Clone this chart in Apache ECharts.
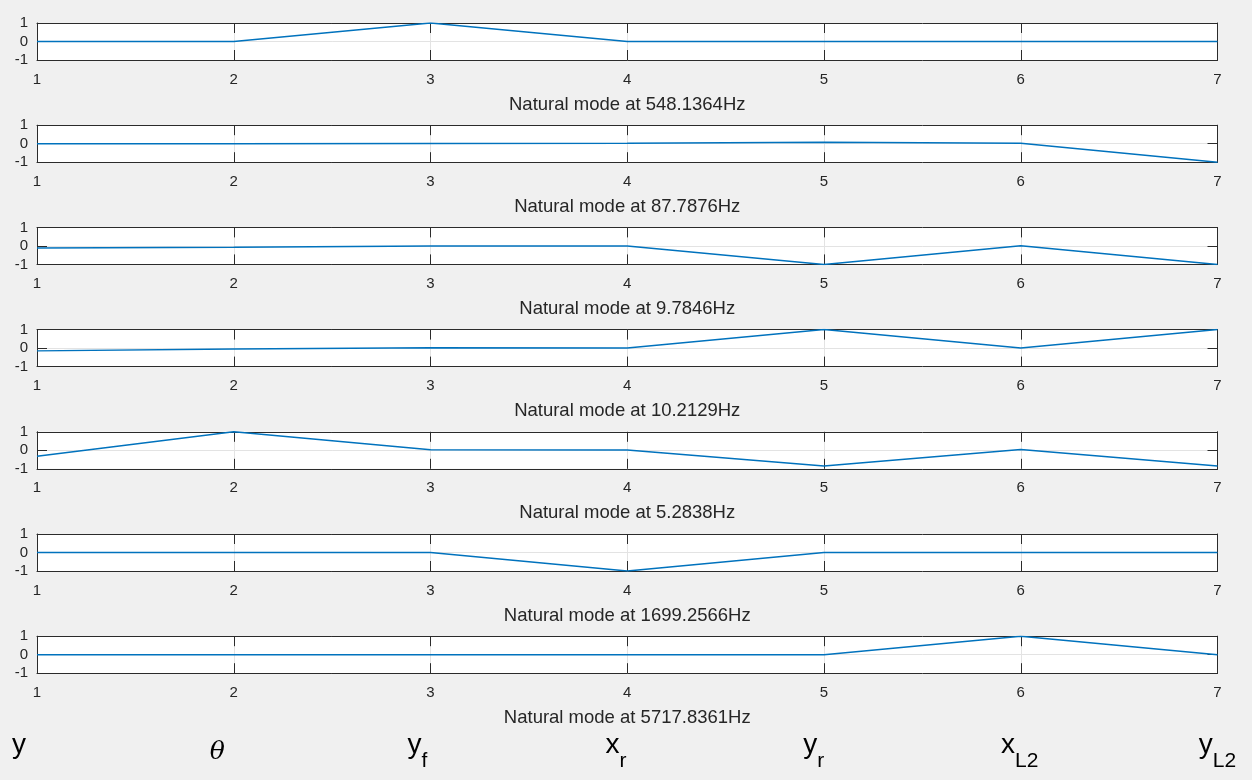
<!DOCTYPE html>
<html>
<head>
<meta charset="utf-8">
<script src="https://cdn.jsdelivr.net/npm/echarts@6/dist/echarts.min.js"></script>
<style>
html,body{margin:0;padding:0;background:#f0f0f0;}
#chart{width:1252px;height:780px;}
</style>
</head>
<body>
<div id="chart"></div>
<script>
// ---- data ----
const positions = [1, 2, 3, 4, 5, 6, 7];
const yTicks = [-1, 0, 1];
const frequencies = ['548.1364', '87.7876', '9.7846', '10.2129', '5.2838', '1699.2566', '5717.8361'];
const mode1 = [0, 0, 1, 0, 0, 0, 0];
const mode2 = [0, 0, 0.01, 0.02, 0.08, 0.02, -1];
const mode3 = [-0.11, -0.07, 0, 0, -1, 0.01, -1];
const mode4 = [-0.15, -0.05, 0.02, 0.01, 1, 0, 1];
const mode5 = [-0.32, 1, 0.03, 0.02, -0.85, 0.04, -0.85];
const mode6 = [0, 0, 0, -1, 0, 0, 0];
const mode7 = [0, 0, 0, 0, 0, 1, 0];
const dofMain = ['y', 'θ', 'y', 'x', 'y', 'x', 'y'];
const dofSub = ['', '', 'f', 'r', 'r', 'L2', 'L2'];

const modes = [mode1, mode2, mode3, mode4, mode5, mode6, mode7];

// ---- layout / style ----
const TXT = '#262626';
const BOX = '#2b2b2b';
const FONT = '"Liberation Sans", Arial, Helvetica, sans-serif';
const grids = [], xAxes = [], yAxes = [], series = [];
const tickStyle = { show: true, inside: true, length: 10, lineStyle: { color: BOX, width: 1 } };
const lineStyle = { show: true, onZero: false, lineStyle: { color: BOX, width: 1 } };
modes.forEach((m, i) => {
  grids.push({
    left: 37, width: 1180.5, top: 23 + 102.2 * i, height: 37,
    show: true, backgroundColor: '#ffffff', borderWidth: 0
  });
  const base = { gridIndex: i, type: 'value', min: 1, max: 7, interval: 1 };
  xAxes.push(Object.assign({}, base, {
    position: 'bottom',
    axisLine: lineStyle,
    axisTick: tickStyle,
    axisLabel: { show: true, color: TXT, fontFamily: FONT, fontSize: 15, margin: 12 },
    splitLine: { show: true, lineStyle: { color: '#e3e3e3', width: 1 } },
    name: 'Natural mode at ' + frequencies[i] + 'Hz',
    nameLocation: 'middle', nameGap: 35,
    nameTextStyle: { color: TXT, fontFamily: FONT, fontSize: 18.5 }
  }));
  xAxes.push(Object.assign({}, base, {
    position: 'top',
    axisLine: lineStyle,
    axisTick: tickStyle,
    axisLabel: { show: false },
    splitLine: { show: false }
  }));
  const yb = { gridIndex: i, type: 'value', min: yTicks[0], max: yTicks[yTicks.length - 1], interval: 1 };
  yAxes.push(Object.assign({}, yb, {
    position: 'left',
    axisLine: lineStyle,
    axisTick: tickStyle,
    axisLabel: { show: true, color: TXT, fontFamily: FONT, fontSize: 15, margin: 9 },
    splitLine: { show: true, lineStyle: { color: '#e3e3e3', width: 1 } }
  }));
  yAxes.push(Object.assign({}, yb, {
    position: 'right',
    axisLine: lineStyle,
    axisTick: tickStyle,
    axisLabel: { show: false },
    splitLine: { show: false }
  }));
  series.push({
    type: 'line', xAxisIndex: 2 * i, yAxisIndex: 2 * i,
    data: positions.map((p, k) => [p, m[k]]),
    showSymbol: false, symbol: 'none',
    lineStyle: { color: '#0072BD', width: 1.5 },
    z: 5
  });
});

// bottom degree-of-freedom labels on a hidden axis
const gi = modes.length;
grids.push({ left: 12, width: 1186.8, top: 720, height: 10, show: false });
xAxes.push({
  gridIndex: gi, type: 'value', min: 1, max: 7, interval: 1, position: 'bottom',
  axisLine: { show: false, onZero: false }, axisTick: { show: false }, splitLine: { show: false },
  axisLabel: {
    show: true, margin: 0, align: 'left',
    formatter: function (v) {
      const k = Math.round(v) - 1;
      const main = dofMain[k], sub = dofSub[k];
      const mk = main === 'θ' ? 't' : 'm';
      return '{' + mk + '|' + main + '}' + (sub ? '{s|' + sub + '}' : '{s| }');
    },
    rich: {
      m: { fontFamily: FONT, fontSize: 28, lineHeight: 30, color: '#000' },
      t: { fontFamily: '"DejaVu Serif", "Liberation Serif", serif', fontStyle: 'italic', fontSize: 25, lineHeight: 30, padding: [14, 0, 0, 0], color: '#000' },
      s: { fontFamily: FONT, fontSize: 21, lineHeight: 22, padding: [32, 0, 0, 0], color: '#000' }
    }
  }
});
yAxes.push({ gridIndex: gi, type: 'value', show: false });

const chart = echarts.init(document.getElementById('chart'), null, { renderer: 'canvas' });
chart.setOption({
  backgroundColor: '#f0f0f0',
  animation: false,
  grid: grids, xAxis: xAxes, yAxis: yAxes, series: series
});
</script>
</body>
</html>
